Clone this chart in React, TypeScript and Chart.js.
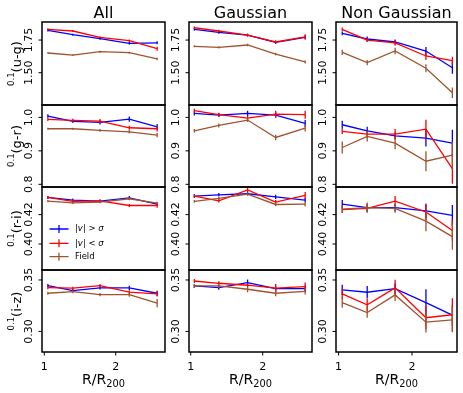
import React, { useEffect, useRef } from "react";
import { Chart, registerables } from "chart.js";
Chart.register(...registerables);

const W = 463;
const H = 393;
const FONT = '"DejaVu Sans", sans-serif';

// ---------- categories / labels ----------
const columnTitles = ["All", "Gaussian", "Non Gaussian"];
const rowLabels = ["(u-g)", "(g-r)", "(r-i)", "(i-z)"];
const seriesNames = ["|v| > σ", "|v| < σ", "Field"];
const seriesColors = ["#0000ff", "#ff0000", "#a0522d"];

// x positions (R/R200) per column
const xsAll = [1.05, 1.4, 1.78, 2.19, 2.58];
const xsGauss = [1.05, 1.39, 1.79, 2.18, 2.59];
const xsNonGauss = [1.05, 1.39, 1.77, 2.19, 2.55];

// tick values / labels
const xTickValues = [1, 2];
const xTickLabels = ["1", "2"];
const ugTicks = [1.5, 1.75];
const ugTickLabels = ["1.50", "1.75"];
const grTicks = [0.8, 0.9, 1.0];
const grTickLabels = ["0.8", "0.9", "1.0"];
const riTicks = [0.4, 0.42];
const riTickLabels = ["0.40", "0.42"];
const izTicks = [0.3, 0.35];
const izTickLabels = ["0.30", "0.35"];

// ---------- u-g ----------
const ugAllHi = [1.824, 1.791, 1.76, 1.725, 1.729];
const ugAllHiErr = [0.008, 0.008, 0.008, 0.01, 0.012];
const ugAllLo = [1.832, 1.819, 1.771, 1.745, 1.684];
const ugAllLoErr = [0.008, 0.008, 0.008, 0.01, 0.015];
const ugAllFld = [1.651, 1.635, 1.661, 1.653, 1.605];
const ugAllFldErr = [0.006, 0.006, 0.008, 0.008, 0.01];

const ugGauHi = [1.832, 1.809, 1.788, 1.732, 1.771];
const ugGauHiErr = [0.01, 0.01, 0.01, 0.012, 0.015];
const ugGauLo = [1.844, 1.819, 1.788, 1.735, 1.775];
const ugGauLoErr = [0.01, 0.01, 0.01, 0.012, 0.02];
const ugGauFld = [1.702, 1.694, 1.712, 1.643, 1.582];
const ugGauFldErr = [0.008, 0.008, 0.01, 0.01, 0.012];

const ugNgHi = [1.801, 1.758, 1.735, 1.666, 1.538];
const ugNgHiErr = [0.015, 0.02, 0.02, 0.03, 0.045];
const ugNgLo = [1.832, 1.75, 1.729, 1.628, 1.592];
const ugNgLoErr = [0.013, 0.015, 0.02, 0.03, 0.03];
const ugNgFld = [1.656, 1.577, 1.666, 1.534, 1.347];
const ugNgFldErr = [0.02, 0.02, 0.025, 0.03, 0.04];

// ---------- g-r ----------
const grAllHi = [1.004, 0.988, 0.985, 0.995, 0.972];
const grAllHiErr = [0.005, 0.005, 0.006, 0.008, 0.008];
const grAllLo = [0.994, 0.991, 0.989, 0.969, 0.966];
const grAllLoErr = [0.005, 0.005, 0.006, 0.006, 0.008];
const grAllFld = [0.966, 0.966, 0.961, 0.957, 0.947];
const grAllFldErr = [0.003, 0.003, 0.004, 0.005, 0.006];

const grGauHi = [1.012, 1.007, 1.012, 1.007, 0.982];
const grGauHiErr = [0.006, 0.006, 0.008, 0.008, 0.01];
const grGauLo = [1.02, 1.008, 0.998, 1.01, 1.008];
const grGauLoErr = [0.006, 0.006, 0.008, 0.01, 0.012];
const grGauFld = [0.96, 0.976, 0.992, 0.94, 0.968];
const grGauFldErr = [0.005, 0.006, 0.006, 0.008, 0.01];

const grNgHi = [0.978, 0.96, 0.945, 0.938, 0.923];
const grNgHiErr = [0.012, 0.012, 0.01, 0.025, 0.04];
const grNgLo = [0.958, 0.95, 0.95, 0.965, 0.847];
const grNgLoErr = [0.008, 0.01, 0.015, 0.028, 0.045];
const grNgFld = [0.91, 0.943, 0.923, 0.869, 0.887];
const grNgFldErr = [0.018, 0.015, 0.018, 0.03, 0.04];

// ---------- r-i ----------
const riAllHi = [0.4317, 0.4299, 0.4292, 0.4314, 0.4271];
const riAllHiErr = [0.001, 0.001, 0.001, 0.0012, 0.0012];
const riAllLo = [0.4317, 0.429, 0.4294, 0.4262, 0.4262];
const riAllLoErr = [0.001, 0.001, 0.001, 0.001, 0.0015];
const riAllFld = [0.4292, 0.428, 0.4285, 0.4308, 0.4278];
const riAllFldErr = [0.0008, 0.0008, 0.0008, 0.001, 0.001];

const riGauHi = [0.4326, 0.4335, 0.4342, 0.4321, 0.4299];
const riGauHiErr = [0.0012, 0.0012, 0.0012, 0.0015, 0.0015];
const riGauLo = [0.4326, 0.4294, 0.4368, 0.4285, 0.4331];
const riGauLoErr = [0.0012, 0.0012, 0.0015, 0.0015, 0.0023];
const riGauFld = [0.429, 0.431, 0.434, 0.4269, 0.4271];
const riGauFldErr = [0.001, 0.001, 0.001, 0.0012, 0.0015];

const riNgHi = [0.4271, 0.4248, 0.4248, 0.4225, 0.4195];
const riNgHiErr = [0.0028, 0.0025, 0.0025, 0.0046, 0.007];
const riNgLo = [0.4234, 0.4243, 0.4292, 0.4218, 0.4092];
const riNgLoErr = [0.0023, 0.0028, 0.0034, 0.0057, 0.007];
const riNgFld = [0.4237, 0.4248, 0.4243, 0.4156, 0.405];
const riNgFldErr = [0.0023, 0.0034, 0.003, 0.007, 0.009];

// ---------- i-z ----------
const izAllHi = [0.3445, 0.3397, 0.3423, 0.3423, 0.3371];
const izAllHiErr = [0.0015, 0.0015, 0.0015, 0.002, 0.0025];
const izAllLo = [0.3426, 0.342, 0.3445, 0.3381, 0.3365];
const izAllLoErr = [0.0015, 0.0015, 0.0015, 0.002, 0.0025];
const izAllFld = [0.3371, 0.3387, 0.3358, 0.3358, 0.3275];
const izAllFldErr = [0.0015, 0.0015, 0.0015, 0.002, 0.004];

const izGauHi = [0.3442, 0.3426, 0.3474, 0.3416, 0.3416];
const izGauHiErr = [0.002, 0.002, 0.003, 0.003, 0.003];
const izGauLo = [0.349, 0.3468, 0.3449, 0.342, 0.3435];
const izGauLoErr = [0.002, 0.002, 0.002, 0.004, 0.004];
const izGauFld = [0.3442, 0.3442, 0.341, 0.3371, 0.339];
const izGauFldErr = [0.002, 0.002, 0.003, 0.003, 0.003];

const izNgHi = [0.3403, 0.3381, 0.3416, 0.328, 0.3159];
const izNgHiErr = [0.005, 0.006, 0.005, 0.013, 0.01];
const izNgLo = [0.3365, 0.3258, 0.3423, 0.3133, 0.3162];
const izNgLoErr = [0.005, 0.006, 0.008, 0.011, 0.016];
const izNgFld = [0.328, 0.3184, 0.3355, 0.309, 0.3113];
const izNgFldErr = [0.005, 0.005, 0.006, 0.01, 0.012];

// ---------- assembled tables ----------
const columnXs = [xsAll, xsGauss, xsNonGauss];
const rowTicks = [ugTicks, grTicks, riTicks, izTicks];
const rowTickLabels = [ugTickLabels, grTickLabels, riTickLabels, izTickLabels];
const panelValues = [
  [[ugAllHi, ugAllLo, ugAllFld], [ugGauHi, ugGauLo, ugGauFld], [ugNgHi, ugNgLo, ugNgFld]],
  [[grAllHi, grAllLo, grAllFld], [grGauHi, grGauLo, grGauFld], [grNgHi, grNgLo, grNgFld]],
  [[riAllHi, riAllLo, riAllFld], [riGauHi, riGauLo, riGauFld], [riNgHi, riNgLo, riNgFld]],
  [[izAllHi, izAllLo, izAllFld], [izGauHi, izGauLo, izGauFld], [izNgHi, izNgLo, izNgFld]],
];
const panelErrors = [
  [[ugAllHiErr, ugAllLoErr, ugAllFldErr], [ugGauHiErr, ugGauLoErr, ugGauFldErr], [ugNgHiErr, ugNgLoErr, ugNgFldErr]],
  [[grAllHiErr, grAllLoErr, grAllFldErr], [grGauHiErr, grGauLoErr, grGauFldErr], [grNgHiErr, grNgLoErr, grNgFldErr]],
  [[riAllHiErr, riAllLoErr, riAllFldErr], [riGauHiErr, riGauLoErr, riGauFldErr], [riNgHiErr, riNgLoErr, riNgFldErr]],
  [[izAllHiErr, izAllLoErr, izAllFldErr], [izGauHiErr, izGauLoErr, izGauFldErr], [izNgHiErr, izNgLoErr, izNgFldErr]],
];

// ---------- layout (axes limits & panel geometry) ----------
const yLimits = [
  [1.253, 1.888],
  [0.792, 1.037],
  [0.3823, 0.4388],
  [0.28, 0.3597],
];
const xLimits = [
  [0.968, 2.69],
  [0.976, 2.685],
  [0.965, 2.613],
];
const colLeft = [42, 189, 336];
const colRight = [165, 312, 457];
const rowTop = [22, 105, 187, 270];
const rowBottom = [105, 187, 270, 352];

function drawLegend(ctx: CanvasRenderingContext2D) {
  const ys = [229, 243.3, 256.7];
  ctx.save();
  ys.forEach((y, i) => {
    ctx.strokeStyle = seriesColors[i];
    ctx.lineWidth = 1.3;
    ctx.beginPath();
    ctx.moveTo(49.5, y);
    ctx.lineTo(68.5, y);
    ctx.moveTo(59, y - 4);
    ctx.lineTo(59, y + 4);
    ctx.stroke();
    ctx.fillStyle = "#000";
    ctx.textBaseline = "middle";
    ctx.textAlign = "left";
    let x = 75;
    const name = seriesNames[i];
    if (i < 2) {
      const parts: [string, boolean][] = [
        ["|", false],
        ["v", true],
        ["|", false],
        [i === 0 ? " > " : " < ", false],
        ["σ", true],
      ];
      parts.forEach(([t, it]) => {
        ctx.font = `${it ? "italic " : ""}8.5px ${FONT}`;
        ctx.fillText(t, x, y);
        x += ctx.measureText(t).width;
      });
    } else {
      ctx.font = `8.5px ${FONT}`;
      ctx.fillText(name, x, y);
    }
  });
  ctx.restore();
}

function Panel({ row, col }: { row: number; col: number }) {
  const ref = useRef<HTMLCanvasElement | null>(null);
  useEffect(() => {
    const canvas = ref.current!;
    const xs = columnXs[col];
    const vals = panelValues[row][col];
    const errs = panelErrors[row][col];
    const datasets = vals.map((v, s) => ({
      label: seriesNames[s],
      data: v.map((y, i) => ({ x: xs[i], y })),
      borderColor: seriesColors[s],
      backgroundColor: seriesColors[s],
      borderWidth: 1.3,
      pointRadius: 0,
      tension: 0,
      fill: false,
      order: 3 - s,
    }));

    const plugin = {
      id: "panelDeco" + row + "_" + col,
      afterDatasetDraw(chart: any, args: any) {
        const s = args.index;
        const ctx = chart.ctx as CanvasRenderingContext2D;
        const xS = chart.scales.x;
        const yS = chart.scales.y;
        const a = chart.chartArea;
        ctx.save();
        ctx.beginPath();
        ctx.rect(a.left, a.top, a.right - a.left, a.bottom - a.top);
        ctx.clip();
        ctx.strokeStyle = seriesColors[s];
        ctx.lineWidth = 1.3;
        ctx.beginPath();
        vals[s].forEach((v, i) => {
          const px = xS.getPixelForValue(xs[i]);
          ctx.moveTo(px, yS.getPixelForValue(v - errs[s][i]));
          ctx.lineTo(px, yS.getPixelForValue(v + errs[s][i]));
        });
        ctx.stroke();
        ctx.restore();
      },
      afterDraw(chart: any) {
        const ctx = chart.ctx as CanvasRenderingContext2D;
        const a = chart.chartArea;
        const xS = chart.scales.x;
        const yS = chart.scales.y;
        ctx.save();
        // frame
        ctx.strokeStyle = "#000";
        ctx.lineWidth = 1.5;
        ctx.strokeRect(a.left, a.top, a.right - a.left, a.bottom - a.top);
        // y ticks + rotated labels
        ctx.lineWidth = 1;
        rowTicks[row].forEach((t, i) => {
          const py = yS.getPixelForValue(t);
          ctx.beginPath();
          ctx.moveTo(a.left - 3.5, py);
          ctx.lineTo(a.left, py);
          ctx.stroke();
          ctx.save();
          ctx.translate(a.left - 10.5, py);
          ctx.rotate(-Math.PI / 2);
          ctx.font = `11px ${FONT}`;
          ctx.fillStyle = "#000";
          ctx.textAlign = "center";
          ctx.textBaseline = "alphabetic";
          ctx.fillText(rowTickLabels[row][i], 0, 0);
          ctx.restore();
        });
        // x ticks on bottom row
        if (row === 3) {
          xTickValues.forEach((t, i) => {
            const px = xS.getPixelForValue(t);
            ctx.beginPath();
            ctx.moveTo(px, a.bottom);
            ctx.lineTo(px, a.bottom + 3.5);
            ctx.stroke();
            ctx.font = `11px ${FONT}`;
            ctx.fillStyle = "#000";
            ctx.textAlign = "center";
            ctx.textBaseline = "alphabetic";
            ctx.fillText(xTickLabels[i], px, 370);
          });
          // x axis label R/R200
          ctx.font = `14px ${FONT}`;
          const main = "R/R";
          const wMain = ctx.measureText(main).width;
          ctx.font = `9.8px ${FONT}`;
          const sub = "200";
          const wSub = ctx.measureText(sub).width;
          const cx = (a.left + a.right) / 2;
          const x0 = cx - (wMain + wSub) / 2;
          ctx.textAlign = "left";
          ctx.font = `14px ${FONT}`;
          ctx.fillText(main, x0, 384);
          ctx.font = `9.8px ${FONT}`;
          ctx.fillText(sub, x0 + wMain, 387);
        }
        // y axis label (first column)
        if (col === 0) {
          const cy = (a.top + a.bottom) / 2;
          ctx.save();
          ctx.translate(0, cy);
          ctx.rotate(-Math.PI / 2);
          ctx.fillStyle = "#000";
          ctx.textAlign = "left";
          ctx.textBaseline = "alphabetic";
          ctx.font = `8.5px ${FONT}`;
          const sup = "0.1";
          const wSup = ctx.measureText(sup).width;
          ctx.font = `13px ${FONT}`;
          const wLab = ctx.measureText(rowLabels[row]).width;
          const start = -(wSup + wLab) / 2;
          ctx.font = `8.5px ${FONT}`;
          ctx.fillText(sup, start, 14);
          ctx.font = `13px ${FONT}`;
          ctx.fillText(rowLabels[row], start + wSup, 21);
          ctx.restore();
        }
        // column title
        if (row === 0) {
          ctx.font = `16px ${FONT}`;
          ctx.fillStyle = "#000";
          ctx.textAlign = "center";
          ctx.textBaseline = "alphabetic";
          ctx.fillText(columnTitles[col], (a.left + a.right) / 2, 18.3);
        }
        if (row === 2 && col === 0) drawLegend(ctx);
        ctx.restore();
      },
    };

    const chart = new Chart(canvas, {
      type: "line",
      data: { datasets } as any,
      options: {
        animation: false,
        responsive: false,
        devicePixelRatio: 1,
        events: [],
        layout: {
          padding: {
            left: colLeft[col],
            right: W - colRight[col],
            top: rowTop[row],
            bottom: H - rowBottom[row],
          },
        },
        scales: {
          x: { type: "linear", display: false, min: xLimits[col][0], max: xLimits[col][1] },
          y: { type: "linear", display: false, min: yLimits[row][0], max: yLimits[row][1] },
        },
        plugins: { legend: { display: false }, tooltip: { enabled: false } },
      } as any,
      plugins: [plugin],
    });
    return () => chart.destroy();
  }, [row, col]);
  return (
    <canvas
      ref={ref}
      width={W}
      height={H}
      style={{ position: "absolute", left: 0, top: 0, width: W, height: H }}
    />
  );
}

export default function App() {
  const panels: React.ReactNode[] = [];
  for (let r = 0; r < 4; r++) {
    for (let c = 0; c < 3; c++) {
      panels.push(<Panel key={`${r}-${c}`} row={r} col={c} />);
    }
  }
  return (
    <div style={{ position: "fixed", left: 0, top: 0, width: W, height: H, background: "#fff" }}>
      {panels}
    </div>
  );
}
